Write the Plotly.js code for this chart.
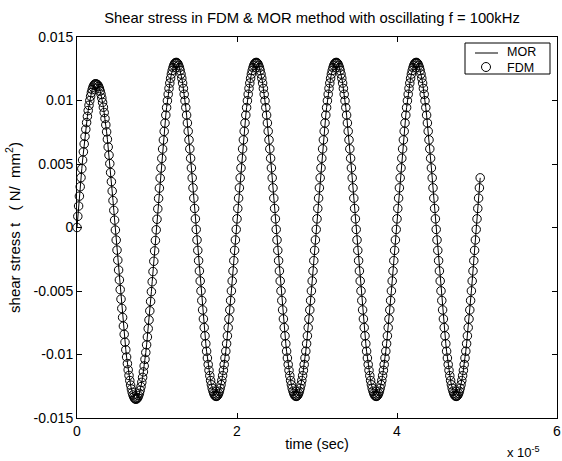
<!DOCTYPE html>
<html>
<head>
<meta charset="utf-8">
<script src="https://cdn.plot.ly/plotly-3.0.1.min.js"></script>
<style>html,body{margin:0;padding:0;background:#fff;}#chart{width:562px;height:461px;}</style>
</head>
<body>
<div id="chart"></div>
<script>
// Sampling of the time axis (seconds)
const timeStart = 0;
const timeStep = 1e-7;

// Shear stress (N/mm^2), one value per time step
const shearStress = [
0, 0.00088, 0.00169, 0.00247, 0.00321, 0.00393, 0.00463, 0.00531, 0.00596, 0.00658,
0.00717, 0.00773, 0.00826, 0.00875, 0.00921, 0.00962, 0.00999, 0.01033, 0.01062, 0.01086,
0.01105, 0.01119, 0.01128, 0.01131, 0.0113, 0.01127, 0.01121, 0.0111, 0.01094, 0.01074,
0.01049, 0.01019, 0.00985, 0.00947, 0.00905, 0.00858, 0.00808, 0.00753, 0.00695, 0.00634,
0.0057, 0.00503, 0.00433, 0.00361, 0.00287, 0.00212, 0.00135, 0.00058, -0.0002, -0.00099,
-0.00178, -0.00257, -0.00335, -0.00413, -0.00489, -0.00564, -0.00637, -0.00708, -0.00776, -0.00841,
-0.00903, -0.00963, -0.0102, -0.01072, -0.01121, -0.01165, -0.01205, -0.01241, -0.01272, -0.01298,
-0.01319, -0.01335, -0.01346, -0.01351, -0.01352, -0.01347, -0.01339, -0.01325, -0.01306, -0.01282,
-0.01253, -0.01219, -0.0118, -0.01137, -0.0109, -0.01038, -0.00984, -0.00924, -0.00862, -0.00796,
-0.00728, -0.00656, -0.00582, -0.00505, -0.00427, -0.00347, -0.00266, -0.00184, -0.00102, -0.00018,
0.00065, 0.00147, 0.00229, 0.0031, 0.00389, 0.00468, 0.00544, 0.00618, 0.00689, 0.00757,
0.00822,
0.00885, 0.00944, 0.00998, 0.01049, 0.01095, 0.01137, 0.01175, 0.01208,
0.01236, 0.01259, 0.01277, 0.0129, 0.01297, 0.013, 0.01297, 0.0129, 0.01277, 0.01259,
0.01236, 0.01208, 0.01175, 0.01137, 0.01095, 0.01049, 0.00998, 0.00944, 0.00885, 0.00823,
0.00758, 0.0069, 0.00619, 0.00545, 0.00469, 0.00391, 0.00312, 0.00231, 0.0015, 0.00068,
-0.00015, -0.00098, -0.0018, -0.00261, -0.00342, -0.00421, -0.00499, -0.00575, -0.00649, -0.0072,
-0.00788, -0.00853, -0.00915, -0.00974, -0.01028, -0.01079, -0.01125, -0.01167, -0.01205, -0.01238,
-0.01266, -0.01289, -0.01307, -0.0132, -0.01327, -0.0133, -0.01327, -0.0132, -0.01307, -0.01289,
-0.01266, -0.01238, -0.01205, -0.01167, -0.01125, -0.01079, -0.01028, -0.00974, -0.00915, -0.00853,
-0.00788, -0.0072, -0.00649, -0.00575, -0.00499, -0.00421, -0.00342, -0.00261, -0.0018, -0.00098,
-0.00015,
0.00068, 0.0015, 0.00231, 0.00312, 0.00391, 0.00469, 0.00545, 0.00619, 0.0069, 0.00758,
0.00823, 0.00885, 0.00944, 0.00998, 0.01049, 0.01095, 0.01137, 0.01175, 0.01208, 0.01236,
0.01259, 0.01277, 0.0129, 0.01297, 0.013, 0.01297, 0.0129, 0.01277, 0.01259, 0.01236,
0.01208, 0.01175, 0.01137, 0.01095, 0.01049, 0.00998, 0.00944, 0.00885, 0.00823, 0.00758,
0.0069, 0.00619, 0.00545, 0.00469, 0.00391, 0.00312, 0.00231, 0.0015, 0.00068, -0.00015,
-0.00098, -0.0018, -0.00261, -0.00342, -0.00421, -0.00499, -0.00575, -0.00649, -0.0072, -0.00788,
-0.00853, -0.00915, -0.00974, -0.01028, -0.01079, -0.01125, -0.01167, -0.01205, -0.01238, -0.01266,
-0.01289, -0.01307, -0.0132, -0.01327, -0.0133, -0.01327, -0.0132, -0.01307, -0.01289, -0.01266,
-0.01238, -0.01205, -0.01167, -0.01125, -0.01079, -0.01028, -0.00974, -0.00915, -0.00853, -0.00788,
-0.0072, -0.00649, -0.00575, -0.00499, -0.00421, -0.00342, -0.00261, -0.0018, -0.00098, -0.00015,
0.00068, 0.0015, 0.00231, 0.00312, 0.00391, 0.00469, 0.00545, 0.00619, 0.0069, 0.00758,
0.00823, 0.00885, 0.00944, 0.00998, 0.01049, 0.01095, 0.01137, 0.01175, 0.01208, 0.01236,
0.01259, 0.01277, 0.0129, 0.01297, 0.013, 0.01297, 0.0129, 0.01277, 0.01259, 0.01236,
0.01208, 0.01175, 0.01137, 0.01095, 0.01049, 0.00998, 0.00944, 0.00885, 0.00823, 0.00758,
0.0069, 0.00619, 0.00545, 0.00469, 0.00391, 0.00312, 0.00231, 0.0015, 0.00068, -0.00015,
-0.00098, -0.0018, -0.00261, -0.00342, -0.00421, -0.00499, -0.00575, -0.00649, -0.0072, -0.00788,
-0.00853, -0.00915, -0.00974, -0.01028, -0.01079, -0.01125, -0.01167, -0.01205, -0.01238, -0.01266,
-0.01289, -0.01307, -0.0132, -0.01327, -0.0133, -0.01327, -0.0132, -0.01307, -0.01289, -0.01266,
-0.01238, -0.01205, -0.01167, -0.01125, -0.01079, -0.01028, -0.00974, -0.00915, -0.00853, -0.00788,
-0.0072, -0.00649, -0.00575, -0.00499, -0.00421, -0.00342, -0.00261, -0.0018, -0.00098, -0.00015,
0.00068, 0.0015, 0.00231, 0.00312, 0.00391, 0.00469, 0.00545, 0.00619, 0.0069, 0.00758,
0.00823, 0.00885, 0.00944, 0.00998, 0.01049, 0.01095, 0.01137, 0.01175, 0.01208, 0.01236,
0.01259, 0.01277, 0.0129, 0.01297, 0.013, 0.01297, 0.0129, 0.01277, 0.01259, 0.01236,
0.01208, 0.01175, 0.01137, 0.01095, 0.01049, 0.00998, 0.00944, 0.00885, 0.00823, 0.00758,
0.0069, 0.00619, 0.00545, 0.00469, 0.00391, 0.00312, 0.00231, 0.0015, 0.00068, -0.00015,
-0.00098, -0.0018, -0.00261, -0.00342, -0.00421, -0.00499, -0.00575, -0.00649, -0.0072, -0.00788,
-0.00853, -0.00915, -0.00974, -0.01028, -0.01079, -0.01125, -0.01167, -0.01205, -0.01238, -0.01266,
-0.01289, -0.01307, -0.0132, -0.01327, -0.0133, -0.01327, -0.0132, -0.01307, -0.01289, -0.01266,
-0.01238, -0.01205, -0.01167, -0.01125, -0.01079, -0.01028, -0.00974, -0.00915, -0.00853, -0.00788,
-0.0072, -0.00649, -0.00575, -0.00499, -0.00421, -0.00342, -0.00261, -0.0018, -0.00098, -0.00015,
0.00068, 0.0015, 0.00231, 0.00312, 0.00391
];

const seriesNames = ['MOR', 'FDM'];
const xTickValues = [0, 2e-5, 4e-5, 6e-5];
const xTickLabels = ['0', '2', '4', '6'];
const yTickValues = [-0.015, -0.01, -0.005, 0, 0.005, 0.01, 0.015];
const yTickLabels = ['-0.015', '-0.01', '-0.005', '0', '0.005', '0.01', '0.015'];

const FONT = 'Liberation Sans, Arial, Helvetica, sans-serif';

const traces = [
  {
    type: 'scatter', mode: 'lines', name: seriesNames[0],
    x0: timeStart, dx: timeStep, y: shearStress,
    line: {color: '#000', width: 1},
    showlegend: false, hoverinfo: 'x+y'
  },
  {
    type: 'scatter', mode: 'markers', name: seriesNames[1],
    x0: timeStart, dx: timeStep, y: shearStress, cliponaxis: false,
    marker: {symbol: 'circle-open', size: 8.5, color: '#000', line: {color: '#000', width: 1}},
    showlegend: false, hoverinfo: 'x+y'
  }
];

// pixel -> paper helpers for the hand-drawn MATLAB-style legend box
const PL = 77, PR = 557, PT = 37, PB = 418;
const px = v => (v - PL) / (PR - PL);
const py = v => (PB - v) / (PB - PT);

const layout = {
  width: 562, height: 461,
  margin: {l: PL, r: 562 - PR, t: PT, b: 461 - PB, pad: 0},
  paper_bgcolor: '#fff', plot_bgcolor: '#fff',
  font: {family: FONT, size: 14, color: '#000'},
  showlegend: false,
  title: {
    text: 'Shear stress in FDM &amp; MOR method with oscillating f = 100kHz',
    font: {family: FONT, size: 14.8, color: '#000'},
    x: px(312), xref: 'paper', xanchor: 'center',
    y: 1 - 18 / 461, yref: 'container', yanchor: 'middle'
  },
  xaxis: {
    range: [0, 6e-5], tickmode: 'array', tickvals: xTickValues, ticktext: xTickLabels,
    ticks: 'inside', ticklen: 5, tickwidth: 1, tickcolor: '#000',
    showline: true, linecolor: '#000', linewidth: 1, mirror: 'ticks',
    showgrid: false, zeroline: false,
    tickfont: {family: FONT, size: 14, color: '#000'},
    title: {text: 'time (sec)', font: {family: FONT, size: 14.5, color: '#000'}, standoff: 1}
  },
  yaxis: {
    range: [-0.015, 0.015], tickmode: 'array', tickvals: yTickValues, ticktext: yTickLabels,
    ticks: 'inside', ticklen: 5, tickwidth: 1, tickcolor: '#000',
    showline: true, linecolor: '#000', linewidth: 1, mirror: 'ticks',
    showgrid: false, zeroline: false,
    tickfont: {family: FONT, size: 14, color: '#000'},
    title: {text: 'shear stress t \u00A0 ( N/ \u00A0mm<sup>2</sup>)', font: {family: FONT, size: 15, color: '#000'}, standoff: 9}
  },
  shapes: [
    {type: 'rect', xref: 'paper', yref: 'paper', x0: px(465), x1: px(550), y0: py(74), y1: py(43),
     line: {color: '#000', width: 1}, fillcolor: '#fff', layer: 'above'},
    {type: 'line', xref: 'paper', yref: 'paper', x0: px(475), x1: px(498), y0: py(53), y1: py(53),
     line: {color: '#000', width: 1}, layer: 'above'},
    {type: 'circle', xref: 'paper', yref: 'paper', xsizemode: 'pixel', ysizemode: 'pixel',
     xanchor: px(486), yanchor: py(67), x0: -4.5, x1: 4.5, y0: -4.5, y1: 4.5,
     line: {color: '#000', width: 1}, layer: 'above'}
  ],
  annotations: [
    {text: seriesNames[0], xref: 'paper', yref: 'paper', x: px(506), y: py(60), xanchor: 'left', yanchor: 'bottom',
     borderpad: 0, showarrow: false, font: {family: FONT, size: 12.5, color: '#000'}},
    {text: seriesNames[1], xref: 'paper', yref: 'paper', x: px(506), y: py(60), xanchor: 'left', yanchor: 'top',
     borderpad: 0, showarrow: false, font: {family: FONT, size: 12.5, color: '#000'}},
    {text: 'x 10<sup>-5</sup>', xref: 'paper', yref: 'paper', x: px(542), y: py(452), xanchor: 'right', yanchor: 'middle',
     showarrow: false, font: {family: FONT, size: 13, color: '#000'}}
  ]
};

Plotly.newPlot('chart', traces, layout, {displayModeBar: false, staticPlot: true});
</script>
</body>
</html>
